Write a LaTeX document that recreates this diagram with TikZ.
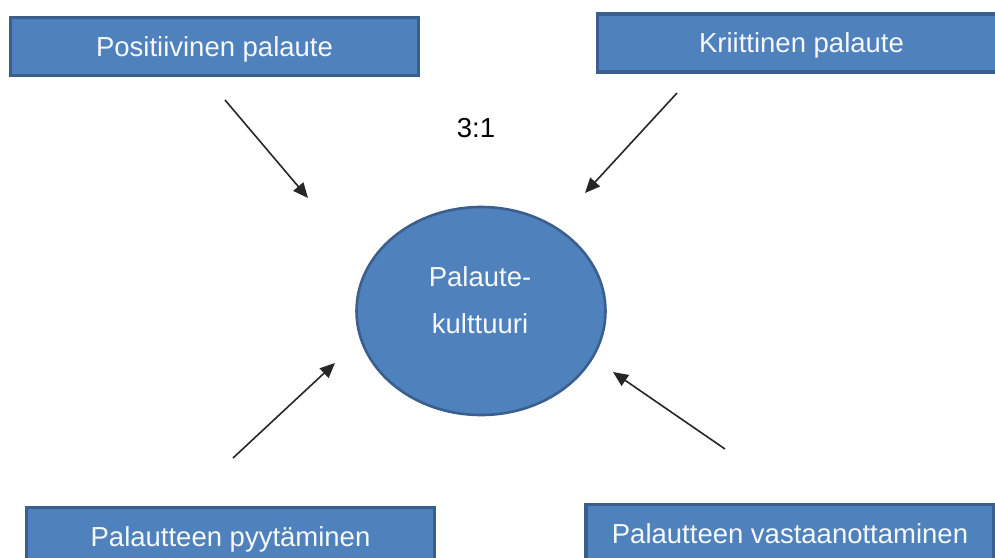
\documentclass[tikz,border=0pt]{standalone}
\usepackage{fontspec}
\setmainfont{Liberation Sans}
\usetikzlibrary{arrows.meta,shapes.geometric}
\definecolor{boxfill}{HTML}{4F81BD}
\definecolor{boxline}{HTML}{3A5F8E}
\begin{document}
\begin{tikzpicture}[x=1pt,y=-1pt,
  lbl/.style={font=\fontsize{27.5}{33}\selectfont, text height=19.7pt, text depth=0pt, inner sep=0pt},
  box/.style={lbl, draw=boxline, fill=boxfill, line width=3.6pt, text=white!95!boxfill,
              minimum width=408pt, minimum height=58pt},
  arr/.style={line width=1.6pt, draw=black!85, -{Triangle[length=15pt,width=13pt]}}]
\useasboundingbox (0,0) rectangle (995,557);
\clip (0,0) rectangle (995,557);

\node[box] (pos) at (214.5,46.5) {Positiivinen palaute};
\node[box] (krit) at (801.5,43) {Kriittinen palaute};
\node[box] (pyyt) at (230.5,536.5) {Palautteen pyytäminen};
\node[box] (vast) at (790,533.5) {Palautteen vastaanottaminen};

\node[ellipse, draw=boxline, fill=boxfill, line width=2.6pt,
      minimum width=249pt, minimum height=208pt, inner sep=0pt] (kult) at (481,311) {};
\node[inner sep=0pt, align=center, text=white!95!boxfill,
      font=\fontsize{27.5}{47}\selectfont] (kulttxt) at (480,300) {Palaute-\\kulttuuri};

\node[lbl] (ratio) at (476,128) {3:1};

\coordinate (a1s) at (225,100);
\coordinate (a1e) at (308,198);
\coordinate (a2s) at (677,93);
\coordinate (a2e) at (585,193);
\coordinate (a3s) at (233,458);
\coordinate (a3e) at (335,363);
\coordinate (a4s) at (725,449);
\coordinate (a4e) at (613,372);

\draw[arr] (a1s) -- (a1e);
\draw[arr] (a2s) -- (a2e);
\draw[arr] (a3s) -- (a3e);
\draw[arr] (a4s) -- (a4e);
\end{tikzpicture}
\end{document}
